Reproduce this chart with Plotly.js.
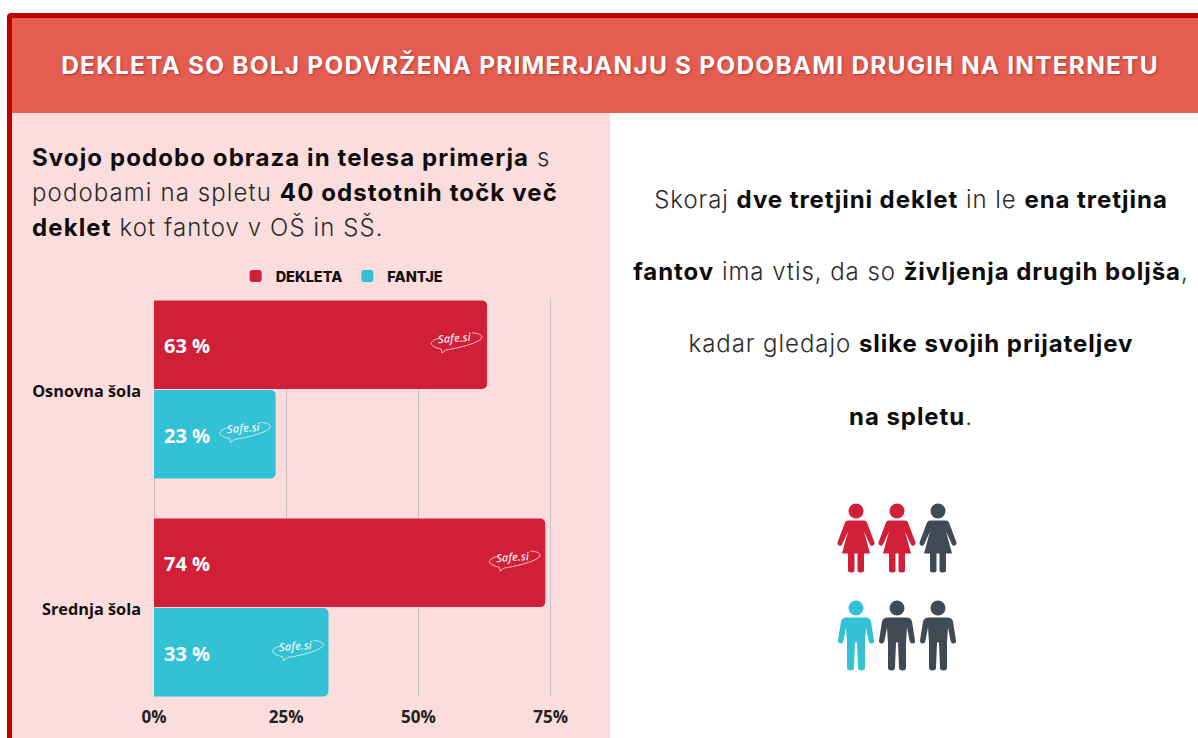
<!DOCTYPE html>
<html><head><meta charset="utf-8">
<script src="https://cdn.plot.ly/plotly-3.0.1.min.js"></script>
<style>
html,body{margin:0;padding:0;background:#fff;overflow:hidden}
#page{position:relative;width:1198px;height:738px;overflow:hidden;font-family:Inter,sans-serif}
.bg{position:absolute}
.t{position:absolute;white-space:nowrap;font-weight:300;color:#2b2b2b}
.t b{font-weight:700;color:#0c0c0c}
#chart{position:absolute;left:0;top:0;width:1198px;height:738px}
#icons{position:absolute;left:0;top:0}
</style></head><body>
<div id="page">
<div class="bg" style="left:7px;top:13px;width:1191px;height:725px;background:#c00000;border-top-left-radius:4px"></div>
<div class="bg" style="left:12px;top:18px;width:1186px;height:720px;background:#fff"></div>
<div class="bg" style="left:12px;top:18px;width:1186px;height:95px;background:#e55c50"></div>
<div class="bg" style="left:12px;top:113px;width:598px;height:625px;background:#fcdddd"></div>
<div id="text"></div>
<svg id="icons" width="1198" height="738"></svg>
<div id="chart"></div>
</div>
<script>
var categories = ['Osnovna šola', 'Srednja šola'];
var girls = [63, 74];
var boys = [23, 33];
var xTicks = [0, 25, 50, 75];
var xTickLabels = ['0%', '25%', '50%', '75%'];
var seriesNames = ['DEKLETA', 'FANTJE'];
var titleText = 'DEKLETA SO BOLJ PODVRŽENA PRIMERJANJU S PODOBAMI DRUGIH NA INTERNETU';
var leftLines = [
  '<b>Svojo podobo obraza in telesa primerja</b> s',
  'podobami na spletu <b>40 odstotnih točk več</b>',
  '<b>deklet</b> kot fantov v OŠ in SŠ.'
];
var rightLines = [
  'Skoraj <b>dve tretjini deklet</b> in le <b>ena tretjina</b>',
  '<b>fantov</b> ima vtis, da so <b>življenja drugih boljša</b>,',
  'kadar gledajo <b>slike svojih prijateljev</b>',
  '<b>na spletu</b>.'
];
var girlRow = ['#d11f38', '#d11f38', '#3f4a54'];
var boyRow = ['#33c1d6', '#3f4a54', '#3f4a54'];

var textHost = document.getElementById('text');
function addText(html, css) {
  var d = document.createElement('div');
  d.className = 't';
  d.innerHTML = html;
  d.style.cssText = css;
  textHost.appendChild(d);
}
addText(titleText, 'left:12px;width:1196px;text-align:center;top:48px;line-height:34px;font-size:24.5px;letter-spacing:1.2px;font-weight:700;color:#fff;text-shadow:1px 1px 2px rgba(90,20,20,.45)');
[158, 193, 228].forEach(function (y, i) {
  addText(leftLines[i], 'left:32px;top:' + (y - 17) + 'px;line-height:34px;font-size:24px;letter-spacing:1.1px');
});
[200, 272, 344, 417].forEach(function (y, i) {
  addText(rightLines[i], 'left:610px;width:602px;text-align:center;top:' + (y - 17) + 'px;line-height:34px;font-size:24px;letter-spacing:0.95px');
});

var girlPath = 'M-8,17H8Q10,17 11,19L18.5,39Q19,41 17,42Q15,43 14,41L8,28L14,50H8V67Q8,69 5.5,69H4Q1.5,69 1.5,67V50H-1.5V67Q-1.5,69 -4,69H-5.5Q-8,69 -8,67V50H-14L-8,28L-14,41Q-15,43 -17,42Q-19,41 -18.5,39L-11,19Q-10,17 -8,17Z';
var boyPath = 'M-9,17H9Q14,17 15,21L18,40Q18.5,43 15.5,43Q13,43 12.5,40L10,27L9,42V67Q9,70 5.5,70Q2,70 2,67L1,42H-1L-2,67Q-2,70 -5.5,70Q-9,70 -9,67V42L-10,27L-12.5,40Q-13,43 -15.5,43Q-18,43 -18,40L-15,21Q-14,17 -9,17Z';
var svgHtml = '';
function person(cx, top, color, path) {
  svgHtml += '<g transform="translate(' + cx + ',' + top + ')" fill="' + color + '"><circle cx="0" cy="7.5" r="7.5"/><path d="' + path + '"/></g>';
}
[856, 897, 938].forEach(function (cx, i) { person(cx, 503.5, girlRow[i], girlPath); });
[856, 897, 938].forEach(function (cx, i) { person(cx, 600.5, boyRow[i], boyPath); });
document.getElementById('icons').innerHTML = svgHtml;

var swoosh = 'M-15,-12C-8,-12 -4,-9 -5.5,-7C-8,-2 -28,3 -41,5L-45,8L-46,4C-53,3 -58,-1 -55,-3C-54,-5 -50,-6 -47,-7';
var shapes = [], annotations = [];
function decorate(values, yshift, textShift) {
  values.forEach(function (v, i) {
    annotations.push({x: 0, y: categories[i], xref: 'x', yref: 'y', xanchor: 'left', yanchor: 'middle',
      xshift: 8, yshift: textShift, showarrow: false, text: '<b>' + v + ' %</b>',
      font: {family: 'Open Sans', size: 20, color: '#fff'}});
    annotations.push({x: v, y: categories[i], xref: 'x', yref: 'y', xanchor: 'center', yanchor: 'middle',
      xshift: -32, yshift: yshift + 7, showarrow: false, text: '<i>Safe.si</i>', textangle: -4,
      font: {family: 'Open Sans', size: 11, weight: 600, color: 'rgba(255,255,255,.88)'}});
    shapes.push({type: 'path', xref: 'x', yref: 'y', xsizemode: 'pixel', ysizemode: 'pixel',
      xanchor: v, yanchor: i, path: swoosh.replace(/(-?\d+(?:\.\d+)?),(-?\d+(?:\.\d+)?)/g, function (m, a, b) {
        return a + ',' + (-(parseFloat(b) - yshift));
      }), line: {color: 'rgba(255,255,255,.7)', width: 1}, layer: 'above'});
  });
}
decorate(girls, 44.5, 44);
decorate(boys, -45, -46);

Plotly.newPlot('chart', [
  {type: 'bar', orientation: 'h', name: seriesNames[0], y: categories, x: girls, marker: {color: '#d11f38'}, hoverinfo: 'skip'},
  {type: 'bar', orientation: 'h', name: seriesNames[1], y: categories, x: boys, marker: {color: '#33c1d6'}, hoverinfo: 'skip'}
], {
  width: 1198, height: 738,
  margin: {l: 154, r: 621, t: 300, b: 41, pad: 0},
  paper_bgcolor: 'rgba(0,0,0,0)', plot_bgcolor: 'rgba(0,0,0,0)',
  barmode: 'group', bargap: 0.18, bargroupgap: 0.01, barcornerradius: 5,
  showlegend: true,
  legend: {orientation: 'h', x: 0.193, xanchor: 'left', y: 1.06, yanchor: 'middle', traceorder: 'normal',
    bgcolor: 'rgba(0,0,0,0)', font: {family: 'Inter', size: 14.5, weight: 800, color: '#111'}},
  xaxis: {range: [0, 80], tickvals: xTicks, ticktext: xTickLabels, showgrid: true, gridcolor: '#c9bfc0', gridwidth: 1,
    zeroline: true, zerolinecolor: '#c9bfc0', zerolinewidth: 1, showline: false, ticks: '', ticklabelstandoff: 8,
    tickfont: {family: 'Open Sans', size: 17, weight: 700, color: '#222'}},
  yaxis: {type: 'category', categoryorder: 'array', categoryarray: categories, range: [1.41, -0.41], showgrid: false,
    zeroline: false, showline: false, ticks: '', ticklabelstandoff: 12, ticklabelshift: -2,
    tickfont: {family: 'Open Sans', size: 16.3, weight: 700, color: '#111'}},
  shapes: shapes, annotations: annotations
}, {displayModeBar: false, responsive: false});
</script>
</body></html>
